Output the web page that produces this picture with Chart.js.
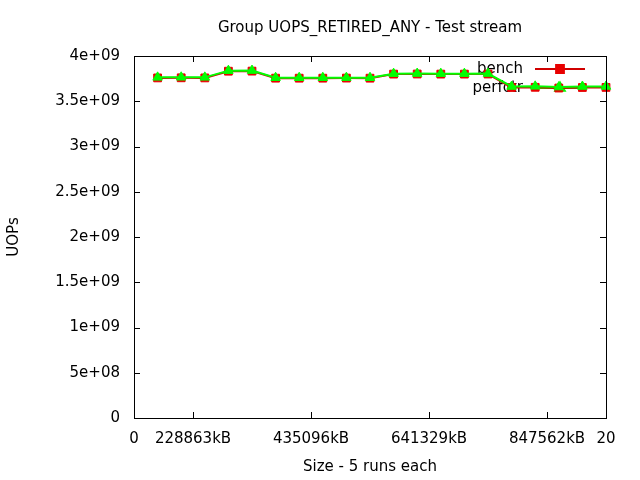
<!DOCTYPE html>
<html>
<head>
<meta charset="utf-8">
<title>Group UOPS_RETIRED_ANY - Test stream</title>
<script src="https://cdn.jsdelivr.net/npm/chart.js@4.4.0/dist/chart.umd.min.js"></script>
<style>
    html, body { margin: 0; padding: 0; background: #ffffff; }
    canvas { display: block; }
</style>
</head>
<body>
<canvas id="uops-chart" width="640" height="480"></canvas>
<script>
// Run index on the x axis (one point per size, 5 runs each).
const run_index = [1, 2, 3, 4, 5, 6, 7, 8, 9, 10, 11, 12, 13, 14, 15, 16, 17, 18, 19, 20];

// UOPs retired.
const bench_uops = [
    3.758e9, 3.759e9, 3.758e9, 3.832e9, 3.833e9,
    3.755e9, 3.755e9, 3.755e9, 3.756e9, 3.755e9,
    3.800e9, 3.801e9, 3.800e9, 3.800e9, 3.801e9,
    3.652e9, 3.654e9, 3.646e9, 3.652e9, 3.653e9
];
const perfctr_uops = [
    3.764e9, 3.765e9, 3.764e9, 3.838e9, 3.839e9,
    3.760e9, 3.760e9, 3.760e9, 3.761e9, 3.760e9,
    3.805e9, 3.806e9, 3.805e9, 3.805e9, 3.806e9,
    3.663e9, 3.665e9, 3.657e9, 3.663e9, 3.664e9
];

// Tick labels of the x axis and where they sit.
const x_tick_values = [0, 2.5, 7.5, 12.5, 17.5, 20];
const x_tick_labels = ["0", "228863kB", "435096kB", "641329kB", "847562kB", "20"];

const FONT = { family: "'DejaVu Sans', sans-serif", size: 15, weight: "normal" };

/**
 * Format a number the way gnuplot does (e.g. 3.5e+09).
 * @param {Number} value - tick value.
 * @returns {String} formatted label.
 */
function gnuplot_format(value) {
    if (value === 0) {
        return "0";
    }
    let exponent = Math.floor(Math.log10(Math.abs(value)));
    let mantissa = Number((value / Math.pow(10, exponent)).toFixed(3));
    let exp_str = String(Math.abs(exponent)).padStart(2, "0");
    return `${mantissa}e${exponent < 0 ? "-" : "+"}${exp_str}`;
}

// Legend inside the top right corner, drawn under the data like gnuplot does.
const inner_legend = {
    id: "inner_legend",
    beforeDatasetsDraw(chart) {
        let ctx = chart.ctx;
        let area = chart.chartArea;
        ctx.save();
        ctx.font = `${FONT.size}px ${FONT.family}`;
        ctx.textAlign = "right";
        ctx.textBaseline = "middle";
        chart.data.datasets.forEach((ds, i) => {
            let y = area.top + 13 + i * 19;
            ctx.fillStyle = "#000000";
            ctx.fillText(ds.label, area.right - 83, y);
            ctx.strokeStyle = ds.borderColor;
            ctx.lineWidth = ds.borderWidth;
            ctx.beginPath();
            ctx.moveTo(area.right - 71, y);
            ctx.lineTo(area.right - 21, y);
            ctx.stroke();
            ctx.fillStyle = ds.pointBackgroundColor;
            ctx.strokeStyle = ds.pointBackgroundColor;
            Chart.helpers.drawPoint(ctx, {
                pointStyle: ds.pointStyle,
                radius: ds.pointRadius,
                rotation: 0,
                borderWidth: 1
            }, area.right - 46, y);
        });
        ctx.restore();
    }
};

// Box around the plot with inward ticks on all four sides.
const plot_frame = {
    id: "plot_frame",
    afterDatasetsDraw(chart) {
        let ctx = chart.ctx;
        let area = chart.chartArea;
        let tick_len = 6;
        ctx.save();
        ctx.strokeStyle = "#000000";
        ctx.lineWidth = 1;
        ctx.beginPath();
        chart.scales.x.ticks.forEach((t) => {
            let x = Math.round(chart.scales.x.getPixelForValue(t.value)) + 0.5;
            ctx.moveTo(x, area.bottom);
            ctx.lineTo(x, area.bottom - tick_len);
            ctx.moveTo(x, area.top);
            ctx.lineTo(x, area.top + tick_len);
        });
        chart.scales.y.ticks.forEach((t) => {
            let y = Math.round(chart.scales.y.getPixelForValue(t.value)) + 0.5;
            ctx.moveTo(area.left, y);
            ctx.lineTo(area.left + tick_len, y);
            ctx.moveTo(area.right, y);
            ctx.lineTo(area.right - tick_len, y);
        });
        ctx.stroke();
        ctx.strokeRect(Math.round(area.left) + 0.5, Math.round(area.top) + 0.5,
            Math.round(area.right - area.left), Math.round(area.bottom - area.top));
        ctx.restore();
    }
};

window.onload = () => {
    let canvas_el = document.querySelector("#uops-chart");

    new Chart(canvas_el, {
        type: "line",
        data: {
            datasets: [{
                label: "bench",
                data: run_index.map((x, i) => ({ x: x, y: bench_uops[i] })),
                order: 1,
                borderColor: "#d00000",
                borderWidth: 2,
                pointStyle: "rect",
                pointRadius: 5.5,
                pointBackgroundColor: "#e80000",
                pointBorderColor: "#e80000",
                pointBorderWidth: 1,
                tension: 0,
                clip: false
            }, {
                label: "perfctr",
                data: run_index.map((x, i) => ({ x: x, y: perfctr_uops[i] })),
                order: 0,
                borderColor: "#00ff00",
                borderWidth: 2,
                pointStyle: "triangle",
                pointRadius: 5.5,
                pointBackgroundColor: "#00ff00",
                pointBorderColor: "#00ff00",
                pointBorderWidth: 1,
                tension: 0,
                clip: false
            }]
        },
        options: {
            responsive: false,
            animation: false,
            devicePixelRatio: 1,
            layout: { padding: { left: 0, right: 34, top: 0, bottom: 0 } },
            plugins: {
                legend: { display: false },
                tooltip: { enabled: false },
                title: {
                    display: true,
                    text: "Group UOPS_RETIRED_ANY - Test stream",
                    fullSize: false,
                    color: "#000000",
                    font: FONT,
                    padding: { top: 19, bottom: 19 }
                }
            },
            scales: {
                x: {
                    type: "linear",
                    min: 0,
                    max: 20,
                    grid: { display: false, drawTicks: false },
                    border: { display: false },
                    afterBuildTicks: (scale) => {
                        scale.ticks = x_tick_values.map((v) => ({ value: v }));
                    },
                    afterFit: (scale) => {
                        scale.height = 62;
                    },
                    ticks: {
                        autoSkip: false,
                        maxRotation: 0,
                        padding: 12,
                        color: "#000000",
                        font: FONT,
                        callback: (value, index) => x_tick_labels[index]
                    },
                    title: {
                        display: true,
                        text: "Size - 5 runs each",
                        color: "#000000",
                        font: FONT,
                        padding: { top: 0, bottom: 4 }
                    }
                },
                y: {
                    min: 0,
                    max: 4e9,
                    grid: { display: false, drawTicks: false },
                    border: { display: false },
                    afterFit: (scale) => {
                        scale.width = 134;
                    },
                    ticks: {
                        stepSize: 5e8,
                        padding: 14,
                        color: "#000000",
                        font: FONT,
                        callback: (value) => gnuplot_format(value)
                    },
                    title: {
                        display: true,
                        text: "UOPs",
                        color: "#000000",
                        font: FONT,
                        padding: { top: 5, bottom: 0 }
                    }
                }
            }
        },
        plugins: [inner_legend, plot_frame]
    });
}
</script>
</body>
</html>
